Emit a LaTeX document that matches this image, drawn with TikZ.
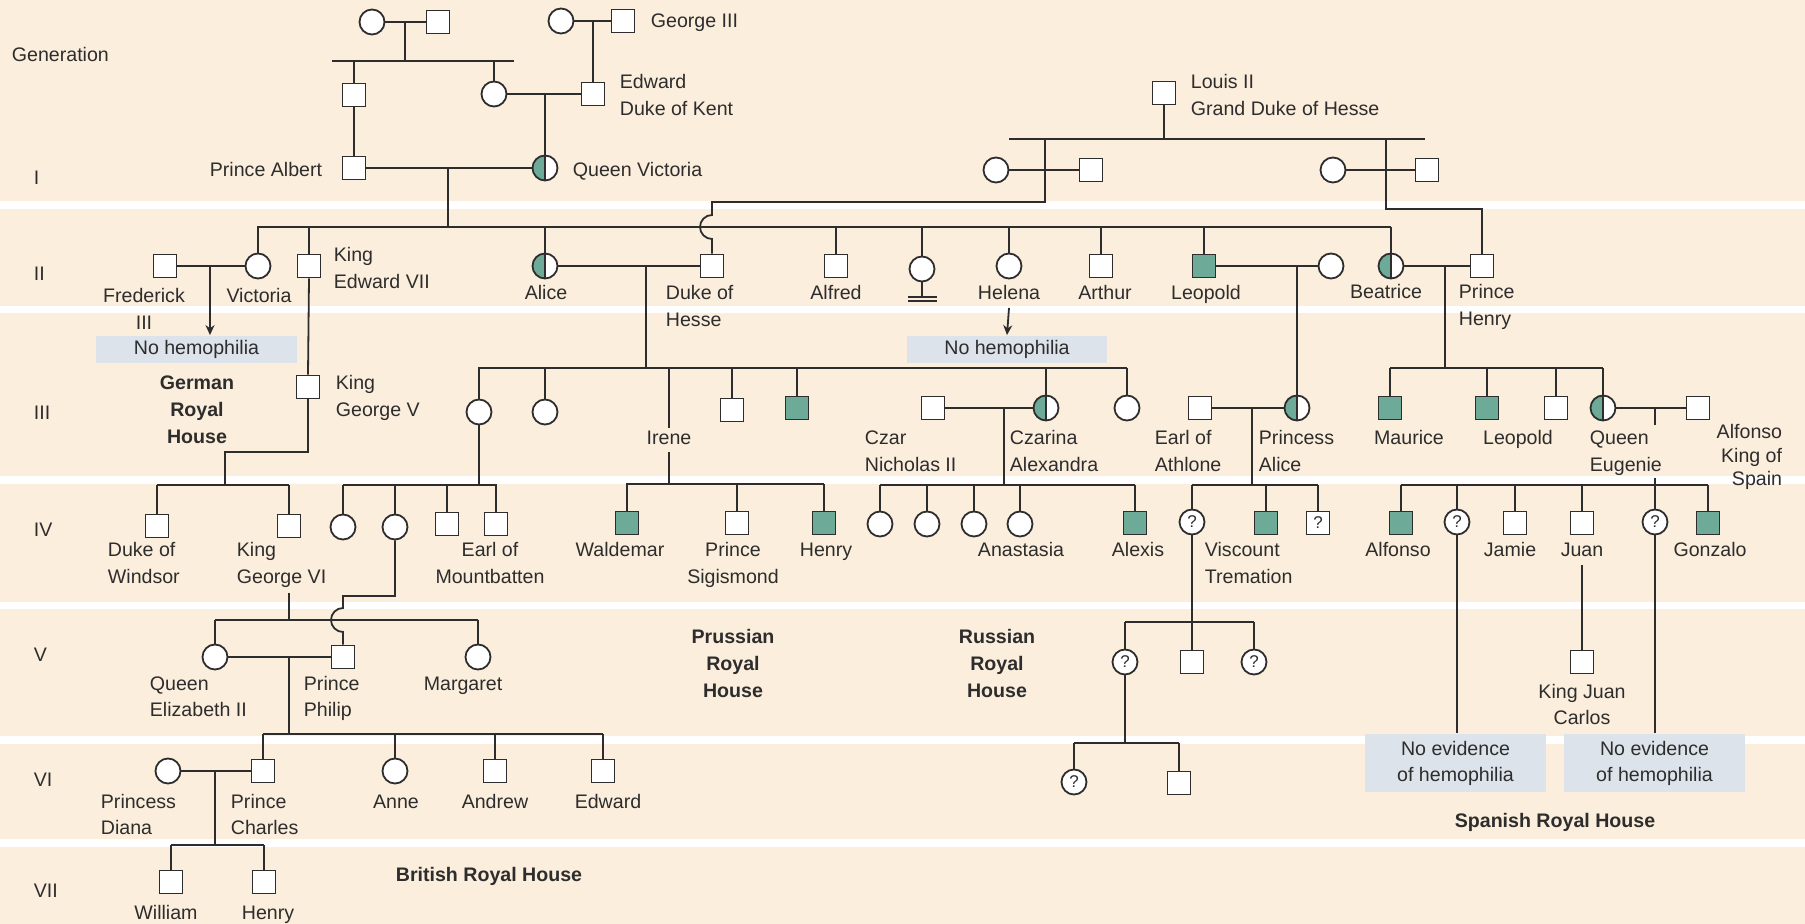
\documentclass[tikz,border=0pt]{standalone}
\usepackage{fontspec}
\setmainfont{Liberation Sans}
\usetikzlibrary{arrows.meta}
\definecolor{bg}{RGB}{252,238,220}
\definecolor{aff}{RGB}{109,170,151}
\definecolor{boxc}{RGB}{220,227,234}
\definecolor{ln}{RGB}{45,45,45}
\tikzset{
  sym/.style={draw=ln, line width=0.9pt, fill=white, inner sep=0pt},
  M/.style={sym, rectangle, minimum size=11.5pt},
  F/.style={sym, circle, minimum size=12.5pt},
  MA/.style={M, fill=aff},
  FC/.style={F, path picture={\fill[aff] (path picture bounding box.south west) rectangle (path picture bounding box.north);
      \draw[ln, line width=0.9pt] (path picture bounding box.south) -- (path picture bounding box.north);}},
  FQ/.style={F, font=\fontsize{8.5}{8.5}\selectfont},
  MQ/.style={M, font=\fontsize{8.5}{8.5}\selectfont},
  L/.style={font=\fontsize{9.8}{13.3}\selectfont, inner sep=0pt, align=left},
  B/.style={font=\fontsize{9.8}{13.3}\selectfont\bfseries, inner sep=0pt, align=center},
  NB/.style={fill=boxc, inner sep=0pt, font=\fontsize{9.8}{13}\selectfont, align=center},
  arr/.style={-{Stealth[length=5pt,width=4.5pt]}},
}
\begin{document}
\begin{tikzpicture}[x=0.5pt,y=-0.5pt,line width=0.9pt,color=ln]
\useasboundingbox (0,0) rectangle (1805,924);
\fill[bg] (0,0) rectangle (1805,924);
\foreach \a/\b in {201/209,306/313,476/484,602/609,736/744,839/847}
  \fill[white] (0,\a) rectangle (1805,\b);

% ---------- top generation ----------
\node[F] (gm1) at (372,22) {};
\node[M] (gf1) at (438,22) {};
\draw (gm1) -- (gf1);
\coordinate (j1) at (405,22);
\coordinate (s1L) at (332,61); \coordinate (s1R) at (514,61);
\draw (j1) -- (j1 |- s1L);
\draw (s1L) -- (s1R);
\node[M] (albp) at (354,95) {};
\node[F] (vicm) at (494,94) {};
\draw (albp.north) -- (albp.north |- s1L);
\draw (vicm.north) -- (vicm.north |- s1L);
\node[F] (gm2) at (561,21) {};
\node[M] (g3) at (623,21) {};
\draw (gm2) -- (g3);
\node[M] (edw) at (593,94) {};
\coordinate (j2) at (593,21);
\draw (j2) -- (edw.north);
\draw (vicm) -- (edw);
\node[M] (alb) at (354,168) {};
\node[FC] (qv) at (545,168) {};
\coordinate (j3) at (545,94);
\draw (j3) -- (qv.north);
\draw (albp.south) -- (alb.north);
\draw (alb) -- (qv);
\coordinate (j4) at (448,168);
\coordinate (s2L) at (257,227); \coordinate (s2R) at (1391,227);
\draw (j4) -- (j4 |- s2L);
\draw (s2L) -- (s2R);

% ---------- Hesse ----------
\node[M] (louis) at (1164,93) {};
\coordinate (s0L) at (1009,139); \coordinate (s0R) at (1425,139);
\draw (louis.south) -- (louis.south |- s0L);
\draw (s0L) -- (s0R);
\node[F] (hw1) at (996,170) {};
\node[M] (hh1) at (1091,170) {};
\draw (hw1) -- (hh1);
\node[F] (hw2) at (1333,170) {};
\node[M] (hh2) at (1427,170) {};
\draw (hw2) -- (hh2);
\node[M] (duke) at (712,266) {};
\node[M] (henry) at (1482,266) {};
\coordinate (h1) at (1045,139);
\coordinate (h2) at (1386,139);
\draw (h1) -- (1045,202) -- (712,202) -- (712,215) arc[start angle=270,end angle=90,radius=12] -- (duke.north);
\draw (h2) -- (1386,209) -- (1482,209) -- (henry.north);

% ---------- generation II ----------
\node[M] (fred) at (165,266) {};
\node[F] (vict) at (258,266) {};
\node[M] (e7) at (309,266) {};
\node[FC] (alice) at (545,266) {};
\node[M] (alfred) at (836,266) {};
\node[F] (nn) at (922,269) {};
\node[F] (helena) at (1009,266) {};
\node[M] (arthur) at (1101,266) {};
\node[MA] (leo) at (1204,266) {};
\node[F] (leow) at (1331,266) {};
\node[FC] (beat) at (1391,266) {};
\foreach \n in {vict,e7,alice,alfred,nn,helena,arthur,leo,beat}
  \draw (\n.north) -- (\n.north |- s2L);
\draw (nn.south) -- (922,297);
\draw (908,297) -- (937,297);
\draw (908,301) -- (937,301);

\node[NB, minimum width=100.5pt, minimum height=13.5pt] (nh1) at (196.5,349.5) {No hemophilia};
\node[NB, minimum width=100pt, minimum height=13.5pt] (nh2) at (1007,349.5) {No hemophilia};
\draw (fred) -- (vict);
\coordinate (jFV) at (210,266);
\draw[arr] (jFV) -- (jFV |- nh1.north);
\coordinate (hA) at (1009,308);
\draw[arr] (hA) -- (nh2.north);

\draw (alice) -- (duke);
\coordinate (jAD) at (646,266);
\coordinate (s3aL) at (478,368); \coordinate (s3aR) at (1127,368);
\draw (jAD) -- (jAD |- s3aL);
\draw (leo) -- (leow);
\coordinate (jLW) at (1297,266);
\draw (beat) -- (henry);
\coordinate (jBH) at (1445,266);
\coordinate (s3bL) at (1390,368); \coordinate (s3bR) at (1603,368);
\draw (jBH) -- (jBH |- s3bL);

% ---------- generation III ----------
\node[M] (g5) at (308,387) {};
\draw (e7.south) -- (g5.north);
\draw (s3aL) -- (s3aR);
\node[F] (vh1) at (479,412) {};
\node[F] (vh2) at (545,412) {};
\node[M] (ern) at (732,410) {};
\node[MA] (fritz) at (797,408) {};
\node[M] (czar) at (933,408) {};
\node[FC] (alex) at (1046,408) {};
\node[F] (may) at (1127,408) {};
\foreach \n in {vh1,vh2,ern,fritz,alex,may}
  \draw (\n.north) -- (\n.north |- s3aL);
\coordinate (irA) at (669,368);
\draw (irA) -- (669,428);
\coordinate (irB) at (669,452);
\draw (irB) -- (669,484);
\draw (czar) -- (alex);
\coordinate (jCA) at (1004,408);
\draw (jCA) -- (1004,485);

\node[M] (athl) at (1200,408) {};
\node[FC] (palice) at (1297,408) {};
\draw (jLW) -- (palice.north);
\draw (athl) -- (palice);
\coordinate (jAP) at (1252,408);
\draw (jAP) -- (1252,485);

\draw (s3bL) -- (s3bR);
\node[MA] (maur) at (1390,408) {};
\node[MA] (leo2) at (1487,408) {};
\node[M] (don) at (1556,408) {};
\node[FC] (eug) at (1603,408) {};
\node[M] (alf13) at (1698,408) {};
\foreach \n in {maur,leo2,don,eug}
  \draw (\n.north) -- (\n.north |- s3bL);
\draw (eug) -- (alf13);
\coordinate (jEA) at (1655,408);
\draw (jEA) -- (1655,425);

\draw (g5.south) -- (308,452) -- (225,452) -- (225,485);

% ---------- generation IV ----------
\coordinate (s4aL) at (157,485); \coordinate (s4aR) at (289,485);
\draw (s4aL) -- (s4aR);
\node[M] (dw) at (157,526) {};
\node[M] (g6) at (289,526) {};
\foreach \n in {dw,g6} \draw (\n.north) -- (\n.north |- s4aL);

\coordinate (s4bL) at (343,485); \coordinate (s4bR) at (497,485);
\draw (vh1.south) -- (vh1.south |- s4bL);
\draw (s4bL) -- (s4bR);
\node[F] (al1) at (343,527) {};
\node[F] (al2) at (395,527) {};
\node[M] (al3) at (447,524) {};
\node[M] (mb) at (496,524) {};
\foreach \n in {al1,al2,al3,mb} \draw (\n.north) -- (\n.north |- s4bL);

\coordinate (s4cL) at (626,484); \coordinate (s4cR) at (824,484);
\draw (s4cL) -- (s4cR);
\node[MA] (wald) at (627,523) {};
\node[M] (sig) at (737,523) {};
\node[MA] (hen2) at (824,523) {};
\foreach \n in {wald,sig,hen2} \draw (\n.north) -- (\n.north |- s4cL);

\coordinate (s4dL) at (880,485); \coordinate (s4dR) at (1135,485);
\draw (s4dL) -- (s4dR);
\node[F] (olga) at (880,524) {};
\node[F] (tat) at (927,524) {};
\node[F] (mar) at (974,524) {};
\node[F] (ana) at (1020,524) {};
\node[MA] (alexis) at (1135,523) {};
\foreach \n in {olga,tat,mar,ana,alexis} \draw (\n.north) -- (\n.north |- s4dL);

\coordinate (s4eL) at (1192,485); \coordinate (s4eR) at (1318,485);
\draw (s4eL) -- (s4eR);
\node[FQ] (q1) at (1192,522) {?};
\node[MA] (visc) at (1266,523) {};
\node[MQ] (q2) at (1318,523) {?};
\foreach \n in {q1,visc,q2} \draw (\n.north) -- (\n.north |- s4eL);

\coordinate (s4fL) at (1401,485); \coordinate (s4fR) at (1708,485);
\draw (s4fL) -- (s4fR);
\node[MA] (alfo) at (1401,523) {};
\node[FQ] (q3) at (1457,522) {?};
\node[M] (jamie) at (1515,523) {};
\node[M] (juan) at (1582,523) {};
\node[FQ] (q4) at (1655,522) {?};
\node[MA] (gonz) at (1708,523) {};
\foreach \n in {alfo,q3,jamie,juan,gonz} \draw (\n.north) -- (\n.north |- s4fL);
\coordinate (jEB) at (1655,478);
\draw (jEB) -- (q4.north);

% ---------- generation V ----------
\coordinate (jG6) at (289,593);
\coordinate (s5aL) at (215,620); \coordinate (s5aR) at (478,620);
\draw (jG6) -- (jG6 |- s5aL);
\draw (s5aL) -- (s5aR);
\node[F] (qe2) at (215,657) {};
\node[M] (phil) at (343,657) {};
\node[F] (marg) at (478,657) {};
\foreach \n in {qe2,marg} \draw (\n.north) -- (\n.north |- s5aL);
\draw (al2.south) -- (395,596) -- (343,596) -- (343,608) arc[start angle=270,end angle=90,radius=12] -- (phil.north);
\draw (qe2) -- (phil);
\coordinate (jQP) at (289,657);

\coordinate (s5bL) at (1125,622); \coordinate (s5bR) at (1254,622);
\draw (s5bL) -- (s5bR);
\node[FQ] (q5) at (1125,662) {?};
\node[M] (g5m) at (1192,662) {};
\node[FQ] (q6) at (1254,662) {?};
\foreach \n in {q5,q6} \draw (\n.north) -- (\n.north |- s5bL);
\draw (q1.south) -- (g5m.north);

\node[M] (jc) at (1582,662) {};
\coordinate (jJ) at (1582,565);
\draw (jJ) -- (jc.north);

\node[NB, minimum width=90.5pt, minimum height=29pt] (ne1) at (1455.5,763) {No evidence\\of hemophilia};
\node[NB, minimum width=90.5pt, minimum height=29pt] (ne2) at (1654.5,763) {No evidence\\of hemophilia};
\draw (q3.south) -- (q3.south |- ne1.north);
\draw (q4.south) -- (q4.south |- ne2.north);

% ---------- generation VI ----------
\coordinate (s6aL) at (263,734); \coordinate (s6aR) at (603,734);
\draw (jQP) -- (jQP |- s6aL);
\draw (s6aL) -- (s6aR);
\node[F] (diana) at (168,771) {};
\node[M] (charles) at (263,771) {};
\node[F] (anne) at (395,771) {};
\node[M] (andrew) at (495,771) {};
\node[M] (edward) at (603,771) {};
\foreach \n in {charles,anne,andrew,edward} \draw (\n.north) -- (\n.north |- s6aL);
\draw (diana) -- (charles);
\coordinate (jDC) at (215,771);

\coordinate (s6bL) at (1074,743); \coordinate (s6bR) at (1179,743);
\draw (q5.south) -- (q5.south |- s6bL);
\draw (s6bL) -- (s6bR);
\node[FQ] (q7) at (1074,782) {?};
\node[M] (g6m) at (1179,783) {};
\foreach \n in {q7,g6m} \draw (\n.north) -- (\n.north |- s6bL);

% ---------- generation VII ----------
\coordinate (s7L) at (171,845); \coordinate (s7R) at (264,845);
\draw (jDC) -- (jDC |- s7L);
\draw (s7L) -- (s7R);
\node[M] (will) at (171,882) {};
\node[M] (harry) at (264,882) {};
\foreach \n in {will,harry} \draw (\n.north) -- (\n.north |- s7L);

% ---------- labels (multi-line nodes: base = last line) ----------
\node[L, anchor=base west] (tGen) at (11,62) {Generation};
\node[L, anchor=base west] (tI) at (33,185) {I};
\node[L, anchor=base west] (tII) at (33,281) {II};
\node[L, anchor=base west] (tIII) at (33,420) {III};
\node[L, anchor=base west] (tIV) at (33,537) {IV};
\node[L, anchor=base west] (tV) at (33,662) {V};
\node[L, anchor=base west] (tVI) at (33,786) {VI};
\node[L, anchor=base west] (tVII) at (33,897) {VII};

\node[L, anchor=base west] (tG3) at (650,28) {George III};
\node[L, anchor=base west] (tEdw) at (619,115.6) {Edward\\Duke of Kent};
\node[L, anchor=base west] (tLouis) at (1190,115.6) {Louis II\\Grand Duke of Hesse};
\node[L, anchor=base east] (tAlb) at (323,177) {Prince Albert};
\node[L, anchor=base west] (tQV) at (572,177) {Queen Victoria};

\node[L, anchor=base, align=center] (tFred) at (144,329.6) {Frederick\\III};
\node[L, anchor=base] (tVict) at (259,303) {Victoria};
\node[L, anchor=base west] (tE7) at (333,288.6) {King\\Edward VII};
\node[L, anchor=base] (tAlice) at (546,300) {Alice};
\node[L, anchor=base west] (tDuke) at (665,326.6) {Duke of\\Hesse};
\node[L, anchor=base] (tAlfred) at (836,300) {Alfred};
\node[L, anchor=base] (tHelena) at (1009,300) {Helena};
\node[L, anchor=base] (tArthur) at (1105,300) {Arthur};
\node[L, anchor=base] (tLeo) at (1206,300) {Leopold};
\node[L, anchor=base] (tBeat) at (1386,299) {Beatrice};
\node[L, anchor=base west] (tHenry) at (1458,325.6) {Prince\\Henry};

\node[B, anchor=base] (tGerman) at (197,443.2) {German\\Royal\\House};
\node[L, anchor=base west] (tG5) at (335,416.6) {King\\George V};
\node[L, anchor=base] (tIrene) at (669,445) {Irene};
\node[L, anchor=base west] (tCzar) at (864,471.6) {Czar\\Nicholas II};
\node[L, anchor=base west] (tCzarina) at (1009,471.6) {Czarina\\Alexandra};
\node[L, anchor=base west] (tAthl) at (1154,471.6) {Earl of\\Athlone};
\node[L, anchor=base west] (tPAlice) at (1258,471.6) {Princess\\Alice};
\node[L, anchor=base] (tMaur) at (1409,445) {Maurice};
\node[L, anchor=base] (tLeo2) at (1518,445) {Leopold};
\node[L, anchor=base west] (tEug) at (1589,471.6) {Queen\\Eugenie};
\node[L, anchor=base east, align=right, font=\fontsize{9.8}{11.6}\selectfont] (tAlf13) at (1783,485.4) {Alfonso\\King of\\Spain};

\node[L, anchor=base west] (tDW) at (107,583.6) {Duke of\\Windsor};
\node[L, anchor=base west] (tG6) at (236,583.6) {King\\George VI};
\node[L, anchor=base, align=center] (tMB) at (490,583.6) {Earl of\\Mountbatten};
\node[L, anchor=base] (tWald) at (620,557) {Waldemar};
\node[L, anchor=base, align=center] (tSig) at (733,583.6) {Prince\\Sigismond};
\node[L, anchor=base] (tHen2) at (826,557) {Henry};
\node[L, anchor=base] (tAnas) at (1021,557) {Anastasia};
\node[L, anchor=base] (tAlexis) at (1138,557) {Alexis};
\node[L, anchor=base west] (tVisc) at (1204,583.6) {Viscount\\Tremation};
\node[L, anchor=base] (tAlfo) at (1398,557) {Alfonso};
\node[L, anchor=base] (tJamie) at (1510,557) {Jamie};
\node[L, anchor=base] (tJuan) at (1582,557) {Juan};
\node[L, anchor=base] (tGonz) at (1710,557) {Gonzalo};

\node[L, anchor=base west] (tQE) at (149,716.6) {Queen\\Elizabeth II};
\node[L, anchor=base west] (tPhil) at (303,716.6) {Prince\\Philip};
\node[L, anchor=base] (tMarg) at (463,690) {Margaret};
\node[B, anchor=base] (tPru) at (733,697.2) {Prussian\\Royal\\House};
\node[B, anchor=base] (tRus) at (997,697.2) {Russian\\Royal\\House};
\node[L, anchor=base, align=center] (tJC) at (1582,724.6) {King Juan\\Carlos};

\node[L, anchor=base west] (tDiana) at (100,834.6) {Princess\\Diana};
\node[L, anchor=base west] (tCharles) at (230,834.6) {Prince\\Charles};
\node[L, anchor=base] (tAnne) at (396,808) {Anne};
\node[L, anchor=base] (tAndrew) at (495,808) {Andrew};
\node[L, anchor=base] (tEdward) at (608,808) {Edward};
\node[B, anchor=base] (tSpain) at (1555,827) {Spanish Royal House};

\node[L, anchor=base] (tWill) at (166,919) {William};
\node[L, anchor=base] (tHarry) at (268,919) {Henry};
\node[B, anchor=base] (tBrit) at (489,881) {British Royal House};
\end{tikzpicture}
\end{document}
